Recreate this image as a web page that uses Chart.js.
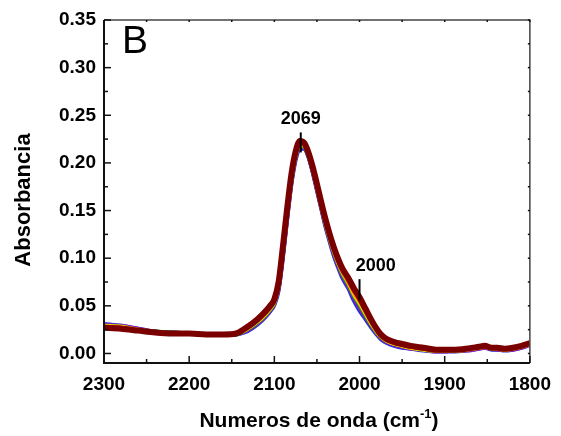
<!DOCTYPE html>
<html lang="en">
<head>
<meta charset="UTF-8">
<title>Absorbancia</title>
<script src="https://cdn.jsdelivr.net/npm/chart.js"></script>
<style>
  body { margin: 0; background: #fff; }
</style>
</head>
<body>
<canvas id="irChart" width="561" height="436"></canvas>
<script>
// wavenumbers (cm-1), shared by all spectra
const waveNumbers = [2300,2280,2260,2240,2220,2200,2180,2160,2145,2135,2125,2115,2105,2100,2095,2090,2085,2080,2075,2070,2065,2060,2055,2050,2045,2040,2035,2030,2025,2020,2013,2007,2000,1993,1986,1980,1975,1968,1959,1950,1940,1925,1910,1900,1890,1875,1860,1853,1845,1838,1830,1820,1810,1800];

const blueSpec = [0.031,0.029,0.026,0.023,0.022,0.021,0.020,0.020,0.020,0.022,0.027,0.034,0.044,0.051,0.066,0.100,0.140,0.177,0.203,0.215,0.215,0.206,0.190,0.171,0.152,0.133,0.117,0.102,0.090,0.079,0.068,0.056,0.045,0.036,0.027,0.020,0.015,0.011,0.008,0.006,0.005,0.003,0.002,0.002,0.002,0.003,0.005,0.006,0.004,0.004,0.003,0.004,0.006,0.009];
const purpleSpec = [0.030,0.029,0.026,0.023,0.022,0.021,0.020,0.020,0.020,0.023,0.028,0.035,0.045,0.052,0.068,0.102,0.142,0.179,0.205,0.217,0.216,0.207,0.191,0.172,0.153,0.135,0.119,0.104,0.092,0.081,0.070,0.059,0.048,0.038,0.029,0.021,0.016,0.012,0.009,0.007,0.005,0.004,0.002,0.002,0.003,0.003,0.005,0.006,0.005,0.004,0.004,0.004,0.006,0.009];
const greenSpec = [0.029,0.028,0.025,0.023,0.022,0.021,0.020,0.020,0.020,0.024,0.029,0.036,0.046,0.053,0.070,0.105,0.145,0.181,0.207,0.218,0.217,0.208,0.192,0.174,0.155,0.136,0.120,0.106,0.094,0.083,0.072,0.061,0.051,0.040,0.030,0.022,0.017,0.013,0.010,0.008,0.006,0.004,0.003,0.003,0.003,0.004,0.006,0.007,0.005,0.005,0.004,0.005,0.007,0.010];
const yellowSpec = [0.029,0.028,0.025,0.022,0.021,0.021,0.020,0.020,0.021,0.024,0.030,0.037,0.047,0.054,0.071,0.107,0.147,0.183,0.208,0.219,0.218,0.209,0.193,0.175,0.156,0.137,0.121,0.107,0.095,0.085,0.074,0.063,0.053,0.042,0.031,0.023,0.018,0.013,0.010,0.008,0.006,0.004,0.003,0.003,0.003,0.004,0.006,0.007,0.005,0.005,0.004,0.005,0.007,0.010];
const orangeSpec = [0.028,0.027,0.025,0.022,0.021,0.021,0.020,0.020,0.021,0.025,0.031,0.038,0.048,0.055,0.072,0.108,0.148,0.185,0.209,0.220,0.219,0.210,0.194,0.176,0.157,0.139,0.123,0.108,0.096,0.086,0.075,0.065,0.055,0.044,0.033,0.024,0.018,0.014,0.011,0.009,0.007,0.005,0.003,0.003,0.003,0.004,0.006,0.007,0.005,0.005,0.004,0.005,0.007,0.010];
const redSpec = [0.028,0.027,0.024,0.022,0.021,0.021,0.020,0.020,0.021,0.025,0.031,0.039,0.049,0.056,0.074,0.110,0.150,0.186,0.211,0.222,0.220,0.210,0.195,0.177,0.158,0.140,0.124,0.110,0.098,0.088,0.077,0.067,0.057,0.045,0.034,0.025,0.019,0.015,0.011,0.009,0.007,0.005,0.004,0.004,0.004,0.005,0.007,0.008,0.006,0.006,0.005,0.006,0.008,0.011];
const darkRedSpec = [0.027,0.026,0.024,0.022,0.021,0.021,0.020,0.020,0.021,0.026,0.032,0.040,0.050,0.057,0.075,0.112,0.152,0.188,0.212,0.223,0.221,0.211,0.196,0.178,0.159,0.141,0.125,0.111,0.099,0.089,0.079,0.069,0.059,0.047,0.035,0.026,0.020,0.015,0.012,0.010,0.008,0.006,0.004,0.004,0.004,0.005,0.007,0.008,0.006,0.006,0.005,0.006,0.008,0.011];

const xTicks = [2300, 2200, 2100, 2000, 1900, 1800];
const yTicks = [0, 0.05, 0.10, 0.15, 0.20, 0.25, 0.30, 0.35];

// peak marks: label, position, marker line from/to, label anchor
const peakNames = ['2069', '2000'];
const peakX = [2069, 2000];
const peakLineTop = [0.232, 0.078];
const peakLineBottom = [0.211, 0.056];
const peakLabelX = [2069, 1981];
const peakLabelY = [0.241, 0.087];

const panelLetter = 'B';
const yTitle = 'Absorbancia';
const xTitle = 'Numeros de onda (cm';

const fontFam = 'Arial, "Liberation Sans", Helvetica, sans-serif';

// darkred first so it is drawn on top
const spectra = [
    { data: darkRedSpec, color: '#7a0000', width: 6 },
    { data: redSpec, color: '#d40000', width: 4 },
    { data: orangeSpec, color: '#ff7a00', width: 4 },
    { data: yellowSpec, color: '#ffd000', width: 4 },
    { data: greenSpec, color: '#18a018', width: 4 },
    { data: purpleSpec, color: '#8a1ab8', width: 4 },
    { data: blueSpec, color: '#2030e0', width: 4 }
];

const frame = {
    id: 'frame',
    afterDraw(chart) {
        const ctx = chart.ctx;
        const a = chart.chartArea;
        const xs = chart.scales.x, ys = chart.scales.y;
        ctx.save();
        // box
        ctx.strokeStyle = '#444';
        ctx.lineWidth = 1.5;
        ctx.beginPath();
        ctx.moveTo(a.left, a.top); ctx.lineTo(a.right, a.top); ctx.lineTo(a.right, a.bottom);
        ctx.stroke();
        ctx.strokeStyle = '#111';
        ctx.lineWidth = 2;
        ctx.beginPath();
        ctx.moveTo(a.left, a.top); ctx.lineTo(a.left, a.bottom); ctx.lineTo(a.right, a.bottom);
        ctx.stroke();

        // inward ticks
        ctx.lineWidth = 1.5;
        for (let v = 1800; v <= 2300; v += 50) {
            const px = xs.getPixelForValue(v);
            const len = v % 100 === 0 ? 7 : 4;
            ctx.beginPath(); ctx.moveTo(px, a.bottom); ctx.lineTo(px, a.bottom - len); ctx.stroke();
            ctx.beginPath(); ctx.moveTo(px, a.top); ctx.lineTo(px, a.top + 2); ctx.stroke();
        }
        for (let i = 0; i <= 14; i++) {
            const v = i * 0.025;
            const py = ys.getPixelForValue(v);
            const len = i % 2 === 0 ? 7 : 4;
            ctx.beginPath(); ctx.moveTo(a.left, py); ctx.lineTo(a.left + len, py); ctx.stroke();
            ctx.beginPath(); ctx.moveTo(a.right, py); ctx.lineTo(a.right - 2, py); ctx.stroke();
        }

        // peak markers
        ctx.strokeStyle = '#000';
        ctx.lineWidth = 2;
        ctx.fillStyle = '#000';
        ctx.font = 'bold 18px ' + fontFam;
        ctx.textAlign = 'center';
        ctx.textBaseline = 'alphabetic';
        for (let i = 0; i < peakNames.length; i++) {
            const px = xs.getPixelForValue(peakX[i]);
            ctx.beginPath();
            ctx.moveTo(px, ys.getPixelForValue(peakLineTop[i]));
            ctx.lineTo(px, ys.getPixelForValue(peakLineBottom[i]));
            ctx.stroke();
            ctx.fillText(peakNames[i], xs.getPixelForValue(peakLabelX[i]), ys.getPixelForValue(peakLabelY[i]));
        }

        // panel letter
        ctx.font = '39px ' + fontFam;
        ctx.textAlign = 'left';
        ctx.fillText(panelLetter, a.left + 18, a.top + 33);

        // axis titles
        ctx.font = 'bold 21px ' + fontFam;
        const mainW = ctx.measureText(xTitle).width;
        ctx.font = 'bold 13px ' + fontFam;
        const supW = ctx.measureText('-1').width;
        ctx.font = 'bold 21px ' + fontFam;
        const closeW = ctx.measureText(')').width;
        let x0 = 319 - (mainW + supW + closeW) / 2;
        const base = 427;
        ctx.fillText(xTitle, x0, base);
        ctx.font = 'bold 13px ' + fontFam;
        ctx.fillText('-1', x0 + mainW, base - 9);
        ctx.font = 'bold 21px ' + fontFam;
        ctx.fillText(')', x0 + mainW + supW, base);

        ctx.translate(24, 200);
        ctx.rotate(-Math.PI / 2);
        ctx.textAlign = 'center';
        ctx.textBaseline = 'middle';
        ctx.font = 'bold 22px ' + fontFam;
        ctx.fillText(yTitle, 0, 0);
        ctx.restore();
    }
};

new Chart(document.getElementById('irChart').getContext('2d'), {
    type: 'line',
    data: {
        labels: waveNumbers,
        datasets: spectra.map(s => ({
            data: waveNumbers.map((w, i) => ({ x: w, y: s.data[i] })),
            borderColor: s.color,
            backgroundColor: s.color,
            borderWidth: s.width,
            pointRadius: 0,
            cubicInterpolationMode: 'monotone',
            fill: false
        }))
    },
    options: {
        responsive: false,
        animation: false,
        layout: { padding: { top: 20, right: 28, left: 0, bottom: 0 } },
        plugins: { legend: { display: false }, tooltip: { enabled: false } },
        scales: {
            x: {
                type: 'linear',
                reverse: true,
                min: 1800,
                max: 2300,
                afterBuildTicks: s => { s.ticks = xTicks.map(v => ({ value: v })); },
                afterFit: s => { s.height = 73; },
                grid: { display: false, drawTicks: false },
                border: { display: false },
                ticks: {
                    padding: 10,
                    color: '#000',
                    font: { family: fontFam, size: 19, weight: 'bold' },
                    maxRotation: 0,
                    callback: v => String(v)
                }
            },
            y: {
                min: -0.01,
                max: 0.35,
                afterBuildTicks: s => { s.ticks = yTicks.map(v => ({ value: v })); },
                afterFit: s => { s.width = 104; },
                grid: { display: false, drawTicks: false },
                border: { display: false },
                ticks: {
                    padding: 8,
                    color: '#000',
                    font: { family: fontFam, size: 19, weight: 'bold' },
                    callback: v => v.toFixed(2)
                }
            }
        }
    },
    plugins: [frame]
});
</script>
</body>
</html>
